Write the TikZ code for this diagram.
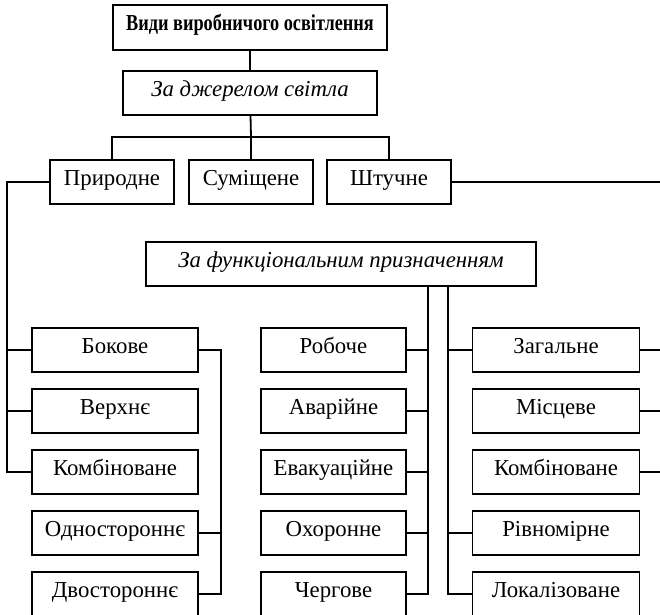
\documentclass[tikz,border=0pt]{standalone}
\usepackage{fontspec}
\setmainfont{Liberation Serif}
\usetikzlibrary{calc}
\newcommand{\fs}{\fontsize{11.4}{13}\selectfont}
\tikzset{box/.style={draw,line width=0.9pt,inner sep=0pt,minimum height=22pt,text height=7pt,text depth=3.5pt,font=\fs}}

\begin{document}
\begin{tikzpicture}[x=0.5pt,y=-0.5pt,line width=0.9pt]
\useasboundingbox (0,0) rectangle (660,615);
% top part
\node[box,minimum width=137pt,minimum height=22.5pt] (kind) at (250,27.5) {\scalebox{0.8}[1]{\bfseries Види виробничого освітлення}};
\node[box,minimum width=127pt,font=\fs\itshape] (src) at (250,93) {За джерелом світла};
\node[box,minimum width=62pt] (nat) at (112,182) {Природне};
\node[box,minimum width=62pt] (mix) at (251,182) {Суміщене};
\node[box,minimum width=62pt] (art) at (389,182) {Штучне};
\node[box,minimum width=195pt,font=\fs\itshape] (func) at (341,264) {За функціональним призначенням};
% left column
\node[box,minimum width=83pt] (side) at (115,350) {Бокове};
\node[box,minimum width=83pt] (upper) at (115,411) {Верхнє};
\node[box,minimum width=83pt] (combl) at (115,472) {Комбіноване};
\node[box,minimum width=83pt] (one) at (115,533) {Одностороннє};
\node[box,minimum width=83pt] (two) at (115,594) {Двостороннє};
% middle column
\node[box,minimum width=72.5pt] (work) at (333.5,350) {Робоче};
\node[box,minimum width=72.5pt] (emer) at (333.5,411) {Аварійне};
\node[box,minimum width=72.5pt] (evac) at (333.5,472) {Евакуаційне};
\node[box,minimum width=72.5pt] (guard) at (333.5,533) {Охоронне};
\node[box,minimum width=72.5pt] (duty) at (333.5,594) {Чергове};
% right column
\node[box,minimum width=83.5pt] (gen) at (556,350) {Загальне};
\node[box,minimum width=83.5pt] (loc) at (556,411) {Місцеве};
\node[box,minimum width=83.5pt] (combr) at (556,472) {Комбіноване};
\node[box,minimum width=83.5pt] (even) at (556,533) {Рівномірне};
\node[box,minimum width=83.5pt] (local) at (556,594) {Локалізоване};
% buses
\coordinate (jn) at (251,137);
\coordinate (lb) at (7,0);
\coordinate (sb) at (221,0);
\coordinate (mb) at (428,0);
\coordinate (gb) at (448,0);
\coordinate (rb) at (664,0);
\draw (kind) -- (src);
\draw (src) -- (jn);
\draw (nat.north) |- (jn) -| (art.north);
\draw (jn) -- (mix);
\draw (nat.west) -| (lb |- combl.west) -- (combl.west);
\draw (lb |- side.west) -- (side.west);
\draw (lb |- upper.west) -- (upper.west);
\draw (side.east) -| (sb |- two.east) -- (two.east);
\draw (sb |- one.east) -- (one.east);
\draw (art.east) -| (rb |- combr.east) -- (combr.east);
\draw (rb |- gen.east) -- (gen.east);
\draw (rb |- loc.east) -- (loc.east);
\draw (mb |- func.south) -- (mb |- duty.east) -- (duty.east);
\draw (mb |- work.east) -- (work.east);
\draw (mb |- emer.east) -- (emer.east);
\draw (mb |- evac.east) -- (evac.east);
\draw (mb |- guard.east) -- (guard.east);
\draw (gb |- func.south) -- (gb |- local.west) -- (local.west);
\draw (gb |- gen.west) -- (gen.west);
\draw (gb |- even.west) -- (even.west);
\end{tikzpicture}
\end{document}
